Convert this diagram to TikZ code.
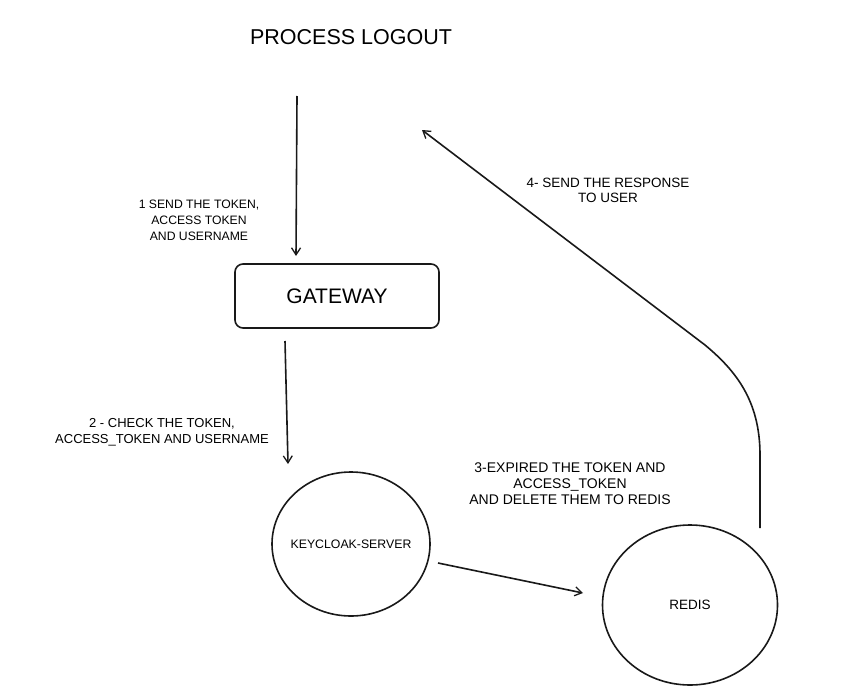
\documentclass[tikz,border=0pt]{standalone}
\usepackage{fontspec}
\setmainfont{Liberation Sans}
\usetikzlibrary{arrows.meta,shapes.geometric}
\tikzset{
  ln/.style={line width=1.6pt, draw=black!90},
  arr/.style={ln, -{Straight Barb[length=7pt,width=9pt,line width=1.3pt]}},
  lbl/.style={align=center, inner sep=0pt},
  gwbox/.style={ln, rounded corners=8pt, minimum width=204pt, minimum height=64pt, font=\fontsize{21}{24}\selectfont},
  circ/.style={ln, ellipse, inner sep=0pt},
}
\begin{document}
\begin{tikzpicture}[x=1pt,y=-1pt]
\useasboundingbox (0,0) rectangle (842,690);
\fill[white] (0,0) rectangle (842,690);

\node[font=\fontsize{21.5}{26}\selectfont] (title) at (351,37) {PROCESS LOGOUT};

\node[gwbox] (gw) at (337,296) {GATEWAY};
\node[circ, minimum width=158pt, minimum height=144pt,
      label={[font=\fontsize{12.3}{14}\selectfont]center:KEYCLOAK-SERVER}] (kc) at (351,544) {};
\node[circ, minimum width=175pt, minimum height=160pt,
      label={[font=\fontsize{13.5}{14}\selectfont]center:REDIS}] (rd) at (690,605) {};

\coordinate (s1) at (297,96);
\coordinate (e1) at (296,256);
\coordinate (s2) at (285,341);
\coordinate (e2) at (288,464);
\coordinate (s3) at (438,563);
\coordinate (e3) at (583,593);
\coordinate (s4) at (760,528);
\coordinate (e4) at (422,130);

\draw[arr] (s1) -- (e1);
\draw[arr] (s2) -- (e2);
\draw[arr] (s3) -- (e3);
\draw[arr] (s4) -- (760,455) .. controls (760,400) and (735,370) .. (705,345) -- (e4);

\node[lbl, font=\fontsize{12.2}{16}\selectfont] (l1) at (199,220) {1 SEND THE TOKEN,\\ACCESS TOKEN\\AND USERNAME};
\node[lbl, font=\fontsize{13}{16}\selectfont] (l2) at (162,432) {2 - CHECK THE TOKEN,\\ACCESS\_TOKEN AND USERNAME};
\node[lbl, font=\fontsize{14}{16}\selectfont] (l3) at (570,484) {3-EXPIRED THE TOKEN AND\\ACCESS\_TOKEN\\AND DELETE THEM TO REDIS};
\node[lbl, font=\fontsize{13.5}{15}\selectfont] (l4) at (608,190) {4- SEND THE RESPONSE\\TO USER};
\end{tikzpicture}
\end{document}
